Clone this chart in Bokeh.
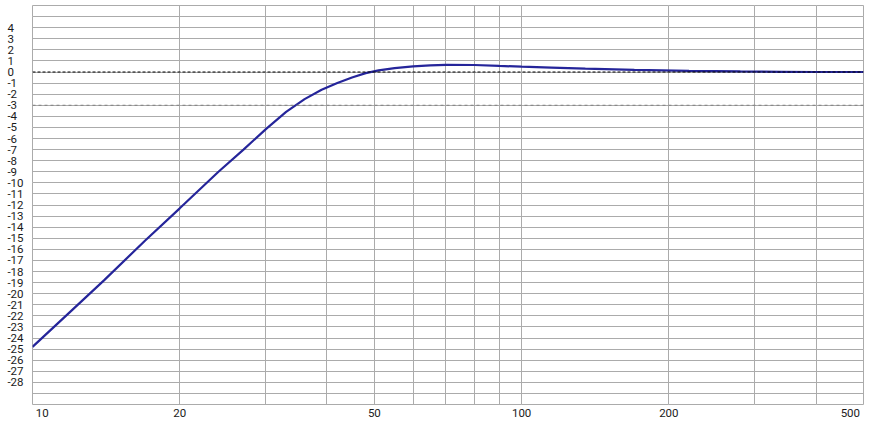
from bokeh.plotting import figure
from bokeh.models import (Grid, FixedTicker, Span, Range1d, LinearAxis, LogAxis,
                          BasicTickFormatter)
from bokeh.embed import file_html
from bokeh.resources import INLINE

# ---- data ----
freq_hz = [10, 12, 14, 17, 20, 24, 27, 30, 33, 36, 39, 42, 45, 48, 51, 55, 60,
           65, 70, 80, 90, 100, 115, 135, 170, 220, 280, 340, 400, 500]
response_db = [-24.8, -21.55, -18.8, -15.2, -12.3, -9.0, -7.0, -5.15, -3.6,
               -2.45, -1.6, -1.0, -0.5, -0.1, 0.15, 0.35, 0.5, 0.6, 0.65, 0.63,
               0.55, 0.48, 0.4, 0.31, 0.2, 0.1, 0.05, 0.02, 0.0, 0.0]
x_label_values = [10, 20, 50, 100, 200, 500]
x_label_texts = ["10", "20", "50", "100", "200", "500"]
x_grid_values = [10, 20, 30, 40, 50, 60, 70, 80, 90, 100, 200, 300, 400, 500]
y_label_values = list(range(-28, 5))
y_grid_values = list(range(-30, 7))
ref_level_db = 0
minus3_level_db = -3

GRID = "#ABABAB"
FONT = "Roboto"
FSIZE = "11.5px"
TEXTC = "#1a1a1a"
FIG_SP = "\u2007"    # digit-wide space
PUNC_SP = "\u2008"   # narrow space (about a minus sign wide)

p = figure(width=866, height=422, x_axis_type="log",
           x_axis_location=None, y_axis_location=None,
           x_range=Range1d(10, 500), y_range=Range1d(-30, 6),
           output_backend="svg", toolbar_location=None,
           min_border_left=32, min_border_right=3,
           min_border_top=5, min_border_bottom=16)
p.outline_line_color = GRID
p.outline_line_width = 1
p.background_fill_color = "white"
p.border_fill_color = "white"

p.add_layout(Grid(dimension=0, ticker=FixedTicker(ticks=x_grid_values),
                  grid_line_color=GRID, grid_line_width=1))
p.add_layout(Grid(dimension=1, ticker=FixedTicker(ticks=y_grid_values),
                  grid_line_color=GRID, grid_line_width=1))

p.add_layout(Span(location=ref_level_db, dimension="width",
                  line_color="black", line_dash="3 2", line_width=1))
p.add_layout(Span(location=minus3_level_db, dimension="width",
                  line_color="#808080", line_dash="3 3", line_width=1))

p.line(freq_hz, response_db, line_color="#25259A", line_width=2.2)


def style_axis(ax, standoff):
    ax.axis_line_color = None
    ax.major_tick_line_color = None
    ax.minor_tick_line_color = None
    ax.major_tick_out = 0
    ax.major_tick_in = 0
    ax.minor_tick_out = 0
    ax.minor_tick_in = 0
    ax.major_label_standoff = standoff
    ax.major_label_text_font = FONT
    ax.major_label_text_font_size = FSIZE
    ax.major_label_text_color = TEXTC


# y labels look left-aligned in the reference: pad the shorter ones on the right
y_overrides = {}
for v in y_label_values:
    s = str(v)
    digits = len(str(abs(v)))
    pad = FIG_SP * (2 - digits) + ("" if v < 0 else PUNC_SP)
    y_overrides[v] = s + pad
yax = LinearAxis(ticker=FixedTicker(ticks=y_label_values),
                 major_label_overrides=y_overrides)
style_axis(yax, 9)
p.add_layout(yax, "left")

# edge labels are nudged inward like in the reference
x_overrides = {}
for i, (v, t) in enumerate(zip(x_label_values, x_label_texts)):
    if i == 0:
        x_overrides[v] = FIG_SP * 3 + t
    elif i == len(x_label_values) - 1:
        x_overrides[v] = t + FIG_SP
    else:
        x_overrides[v] = t
xax = LogAxis(ticker=FixedTicker(ticks=x_label_values),
              formatter=BasicTickFormatter(), major_label_overrides=x_overrides)
style_axis(xax, 1)
p.add_layout(xax, "below")

open("out.html", "w").write(file_html(p, INLINE))
